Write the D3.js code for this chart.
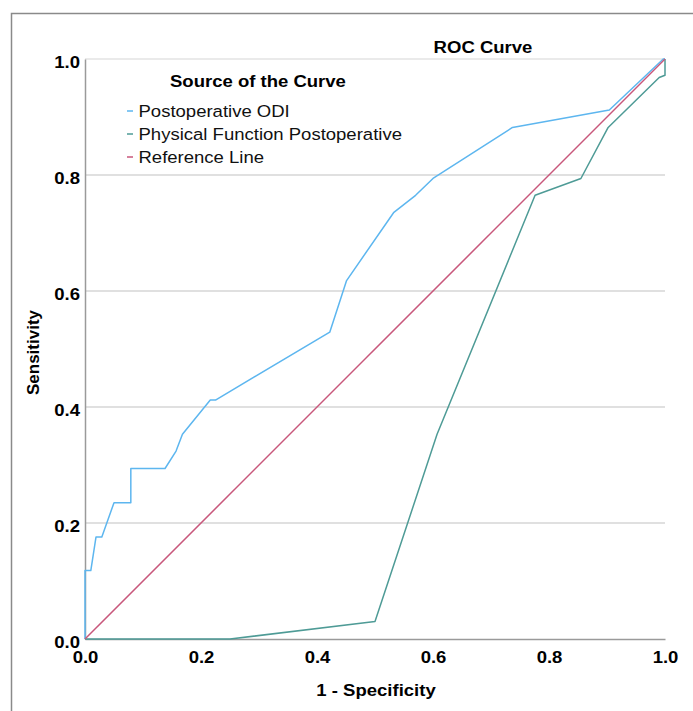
<!DOCTYPE html>
<html>
<head>
<meta charset="utf-8">
<script src="https://cdn.jsdelivr.net/npm/d3@7"></script>
<style>
  body { margin: 0; background: #fff; }
  svg { display: block; font-family: "Liberation Sans", Arial, sans-serif; }
</style>
</head>
<body>
<svg id="chart"></svg>
<script>
// ROC curve data (1 - specificity, sensitivity)
const odiFpr = [0, 0, 0.010, 0.019, 0.029, 0.050, 0.079, 0.079, 0.138, 0.157, 0.168, 0.216, 0.225, 0.422, 0.451, 0.532, 0.570, 0.600, 0.737, 0.904, 0.997, 1.0];
const odiTpr = [0, 0.118, 0.118, 0.176, 0.176, 0.235, 0.235, 0.294, 0.294, 0.324, 0.353, 0.412, 0.412, 0.529, 0.618, 0.735, 0.765, 0.794, 0.882, 0.912, 1.0, 1.0];

const pfFpr = [0, 0.25, 0.5, 0.607, 0.776, 0.855, 0.902, 0.990, 1.0, 1.0];
const pfTpr = [0, 0, 0.03, 0.353, 0.765, 0.794, 0.882, 0.968, 0.972, 1.0];

const refFpr = [0, 1];
const refTpr = [0, 1];

const seriesNames = ["Postoperative ODI", "Physical Function Postoperative", "Reference Line"];
const seriesColors = ["#5db6ef", "#4e9b96", "#c8577b"];
const tickValues = [0, 0.2, 0.4, 0.6, 0.8, 1.0];

const W = 693, H = 711;
const margin = { left: 85, top: 59 };
const plotW = 580, plotH = 580;
const FS = "17px";
const SX = 1.09; // horizontal text stretch seen in the source picture

const svg = d3.select("#chart").attr("width", W).attr("height", H);

// stretch horizontal text a little, around its anchor point
function stretch(sel) {
  sel.each(function () {
    const t = d3.select(this);
    const tx = +t.attr("x") || 0, ty = +t.attr("y") || 0;
    t.attr("transform", `translate(${tx},${ty}) scale(${SX},1)`).attr("x", 0).attr("y", 0);
  });
}

// outer frame
svg.append("path")
  .attr("d", `M11.5,${H} L11.5,13.5 L${W},13.5`)
  .attr("fill", "none")
  .attr("stroke", "#8a8a8a")
  .attr("stroke-width", 1.5);

const x = d3.scaleLinear().domain([0, 1]).range([margin.left, margin.left + plotW]);
const y = d3.scaleLinear().domain([0, 1]).range([margin.top + plotH, margin.top]);

// gridlines
svg.append("g")
  .selectAll("line")
  .data(tickValues.filter(d => d > 0))
  .join("line")
  .attr("x1", x(0)).attr("x2", x(1))
  .attr("y1", d => y(d)).attr("y2", d => y(d))
  .attr("stroke", d => d === 1 ? "#e3e3e3" : "#d6d6d6")
  .attr("stroke-width", 1.5);

// axes
const yAxis = svg.append("g")
  .attr("transform", `translate(${margin.left},0)`)
  .call(d3.axisLeft(y).tickValues(tickValues).tickFormat(d3.format(".1f")).tickSize(0).tickPadding(5));
const xAxis = svg.append("g")
  .attr("transform", `translate(0,${margin.top + plotH})`)
  .call(d3.axisBottom(x).tickValues(tickValues).tickFormat(d3.format(".1f")).tickSize(0).tickPadding(12));

yAxis.selectAll("text").attr("dy", "0.5em");

[xAxis, yAxis].forEach(a => {
  a.select(".domain").attr("stroke", "#9a9a9a").attr("stroke-width", 1.5);
  a.selectAll("text")
    .attr("fill", "#000")
    .style("font-size", FS)
    .style("font-weight", "bold")
    .style("font-family", "'Liberation Sans', Arial, sans-serif")
    .call(stretch);
});

// curves
const line = d3.line().x(d => x(d[0])).y(d => y(d[1]));
const curves = [
  d3.zip(odiFpr, odiTpr),
  d3.zip(pfFpr, pfTpr),
  d3.zip(refFpr, refTpr)
];
curves.forEach((pts, i) => {
  svg.append("path")
    .datum(pts)
    .attr("d", line)
    .attr("fill", "none")
    .attr("stroke", seriesColors[i])
    .attr("stroke-width", 1.5)
    .attr("stroke-linejoin", "round");
});

// title
svg.append("text")
  .attr("x", 483).attr("y", 53)
  .attr("text-anchor", "middle")
  .style("font-size", FS)
  .style("font-weight", "bold")
  .text("ROC Curve")
  .call(stretch);

// legend
svg.append("text")
  .attr("x", 170).attr("y", 87)
  .style("font-size", FS)
  .style("font-weight", "bold")
  .text("Source of the Curve")
  .call(stretch);

const legendRows = svg.append("g")
  .selectAll("g")
  .data(seriesNames)
  .join("g")
  .attr("transform", (d, i) => `translate(0,${117 + i * 23})`);

legendRows.append("line")
  .attr("x1", 127).attr("x2", 133)
  .attr("y1", -6).attr("y2", -6)
  .attr("stroke", (d, i) => seriesColors[i])
  .attr("stroke-width", 1.5);

legendRows.append("text")
  .attr("x", 138.5).attr("y", 0)
  .style("font-size", FS)
  .attr("fill", "#111")
  .text(d => d)
  .call(stretch);

// axis titles
svg.append("text")
  .attr("x", 376).attr("y", 696)
  .attr("text-anchor", "middle")
  .style("font-size", FS)
  .style("font-weight", "bold")
  .text("1 - Specificity")
  .call(stretch);

svg.append("text")
  .attr("transform", `translate(39,352.5) rotate(-90)`)
  .attr("text-anchor", "middle")
  .style("font-size", FS)
  .style("font-weight", "bold")
  .text("Sensitivity");
</script>
</body>
</html>
